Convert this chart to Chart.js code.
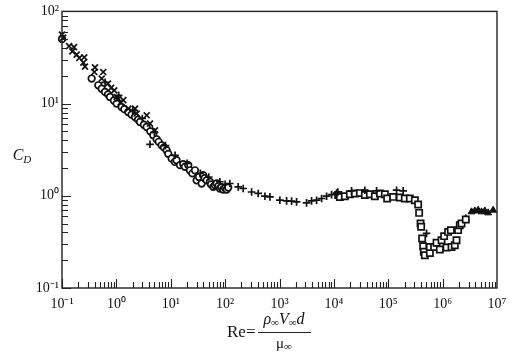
<!DOCTYPE html>
<html>
<head>
<meta charset="utf-8">
<script src="https://cdn.jsdelivr.net/npm/chart.js@4.4.1/dist/chart.umd.min.js"></script>
<style>
  html, body { margin: 0; padding: 0; background: #fff; }
  canvas { display: block; }
</style>
</head>
<body>
<canvas id="dragChart" width="516" height="352"></canvas>
<script>
// tick labels
const xTickValues = [1e-1, 1e0, 1e1, 1e2, 1e3, 1e4, 1e5, 1e6, 1e7];
const xTickLabels = ['10⁻¹', '10⁰', '10¹', '10²', '10³', '10⁴', '10⁵', '10⁶', '10⁷'];
const yTickValues = [1e-1, 1e0, 1e1, 1e2];
const yTickLabels = ['10⁻¹', '10⁰', '10¹', '10²'];

// "x" marks
const xMarkRe = [0.10, 0.105, 0.135, 0.166, 0.155, 0.186, 0.208, 0.257, 0.247, 0.265, 0.404, 0.393, 0.574, 0.537, 0.70, 0.80, 0.914, 1.01, 1.08, 1.20, 1.34, 1.66, 2.20, 2.36, 3.61, 4.15, 5.13];
const xMarkCd = [56, 52, 42.1, 41.0, 36.9, 34.0, 31.2, 31.8, 27.8, 25.2, 24.7, 22.0, 22.0, 18.7, 16.5, 14.8, 13.9, 11.8, 11.3, 10.3, 10.9, 8.83, 8.83, 7.80, 7.47, 6.07, 5.14];

// "+" marks
const plusRe = [0.62, 1.1, 2.0, 3.0, 4.15, 5.0, 8.0, 12, 20, 35, 50, 80, 100, 122, 174, 215, 307, 406, 539, 667, 1016, 1352, 1668, 2061, 3148, 3890, 4808, 5943, 7345, 9079, 11220, 11860, 21130, 37150, 60950, 142200, 188000, 505800];
const plusCd = [17, 12.3, 8.5, 6.9, 3.62, 4.9, 3.5, 2.75, 2.25, 1.75, 1.6, 1.42, 1.33, 1.36, 1.25, 1.20, 1.10, 1.06, 0.99, 0.973, 0.896, 0.881, 0.875, 0.859, 0.838, 0.881, 0.896, 0.935, 0.99, 1.03, 1.07, 1.10, 1.13, 1.15, 1.13, 1.15, 1.13, 0.391];

// open circles
const circleRe = [0.10, 0.351, 0.465, 0.537, 0.617, 0.70, 0.762, 0.90, 1.01, 1.25, 1.40, 1.65, 1.90, 2.20, 2.50, 2.72, 3.20, 3.60, 4.20, 4.77, 5.50, 6.0, 6.80, 7.50, 8.40, 9.0, 10.4, 11.9, 12.8, 14.8, 17, 18.2, 21.0, 22.5, 25, 27.9, 29.9, 33, 37.0, 39.5, 42, 45.7, 52.6, 55, 60.4, 65, 69.8, 75, 80.2, 85, 92.2, 100, 107, 114];
const circleCd = [50, 18.7, 15.8, 14.5, 13.4, 12.6, 11.8, 10.8, 10.0, 9.18, 8.7, 8.11, 7.6, 7.16, 6.7, 6.32, 5.9, 5.58, 5.0, 4.54, 4.1, 3.85, 3.53, 3.35, 3.12, 2.85, 2.54, 2.33, 2.43, 2.15, 2.2, 2.06, 2.15, 1.89, 1.75, 1.89, 1.47, 1.6, 1.36, 1.67, 1.55, 1.47, 1.42, 1.33, 1.25, 1.3, 1.36, 1.27, 1.20, 1.24, 1.17, 1.21, 1.17, 1.23];

// open squares
const squareRe = [12000, 12880, 15920, 19680, 24320, 30060, 37150, 45920, 56760, 70150, 86700, 95500, 123000, 163300, 201800, 249500, 308400, 354600, 369900, 392600, 402600, 419900, 438500, 451000, 470800, 582000, 582000, 698300, 772700, 888900, 955000, 1066000, 1180000, 1262000, 1415000, 1458000, 1675000, 1802000, 1928000, 2070000, 2225000, 2667000];
const squareCd = [1.02, 0.97, 0.99, 1.04, 1.06, 1.07, 1.02, 1.04, 0.99, 1.06, 1.04, 0.935, 0.973, 0.959, 0.935, 0.935, 0.896, 0.805, 0.653, 0.501, 0.461, 0.344, 0.284, 0.247, 0.227, 0.240, 0.279, 0.279, 0.309, 0.262, 0.330, 0.365, 0.275, 0.406, 0.424, 0.279, 0.291, 0.330, 0.424, 0.480, 0.501, 0.553];

// filled triangles
const triangleRe = [2.67e6, 3.40e6, 3.91e6, 4.50e6, 5.19e6, 5.97e6, 6.87e6, 8.49e6];
const triangleCd = [0.567, 0.670, 0.686, 0.698, 0.670, 0.686, 0.653, 0.698];

const toPoints = (re, cd) => re.map((r, i) => ({ x: r, y: cd[i] }));

document.addEventListener('DOMContentLoaded', function () {
    const ctx = document.getElementById('dragChart').getContext('2d');
    const serif = '"Liberation Serif", "Times New Roman", serif';
    const ink = '#111';

    // box and inward log ticks
    const frame = {
        id: 'frame',
        afterDraw(chart) {
            const { ctx, chartArea: a, scales: { x, y } } = chart;
            ctx.save();
            ctx.strokeStyle = '#222';
            ctx.lineWidth = 1.4;
            ctx.strokeRect(a.left, a.top, a.right - a.left, a.bottom - a.top);
            ctx.lineWidth = 1.1;
            ctx.beginPath();
            for (let e = -1; e <= 6; e++) {
                for (let m = 1; m <= 9; m++) {
                    const px = Math.round(x.getPixelForValue(m * Math.pow(10, e))) + 0.5;
                    const len = m === 1 ? 9 : 6;
                    ctx.moveTo(px, a.bottom);
                    ctx.lineTo(px, a.bottom - len);
                }
            }
            for (let e = -1; e <= 1; e++) {
                for (let m = 1; m <= 9; m++) {
                    const py = Math.round(y.getPixelForValue(m * Math.pow(10, e))) + 0.5;
                    const len = m === 1 ? 9 : 6;
                    ctx.moveTo(a.left, py);
                    ctx.lineTo(a.left + len, py);
                }
            }
            ctx.stroke();

            // axis titles
            ctx.fillStyle = ink;
            ctx.textBaseline = 'alphabetic';
            const runs = (parts, cx, base) => {
                let w = 0;
                parts.forEach(p => { ctx.font = p[1]; w += ctx.measureText(p[0]).width; });
                let cur = cx - w / 2;
                parts.forEach(p => {
                    ctx.font = p[1];
                    ctx.fillText(p[0], cur, base + p[2]);
                    cur += ctx.measureText(p[0]).width;
                });
            };
            runs([['C', 'italic 16px ' + serif, 0], ['D', 'italic 11px ' + serif, 3]], 22, 160);

            ctx.font = '17px ' + serif;
            ctx.fillText('Re', 227, 337);
            ctx.fillText('=', 246, 337);
            runs([['ρ', 'italic 16px ' + serif, 0], ['∞', '11px ' + serif, 2],
                  ['V', 'italic 16px ' + serif, 0], ['∞', '11px ' + serif, 2],
                  ['d', 'italic 16px ' + serif, 0]], 284, 324);
            ctx.lineWidth = 1;
            ctx.beginPath();
            ctx.moveTo(258, 332.5);
            ctx.lineTo(311, 332.5);
            ctx.stroke();
            runs([['μ', '15px ' + serif, 0], ['∞', '11px ' + serif, 2]], 284, 348);
            ctx.restore();
        }
    };

    const markers = {
        borderColor: ink,
        borderWidth: 1.7,
        clip: false
    };

    new Chart(ctx, {
        type: 'scatter',
        data: {
            datasets: [
                { ...markers, label: 'x', data: toPoints(xMarkRe, xMarkCd), pointStyle: 'crossRot', pointRadius: 4.2, backgroundColor: ink },
                { ...markers, label: '+', data: toPoints(plusRe, plusCd), pointStyle: 'cross', pointRadius: 3.8, backgroundColor: ink },
                { ...markers, label: 'circle', data: toPoints(circleRe, circleCd), pointStyle: 'circle', pointRadius: 3.3, backgroundColor: '#fff' },
                { ...markers, label: 'square', data: toPoints(squareRe, squareCd), pointStyle: 'rect', pointRadius: 4.4, backgroundColor: '#fff' },
                { ...markers, label: 'triangle', data: toPoints(triangleRe, triangleCd), pointStyle: 'triangle', pointRadius: 4, backgroundColor: ink, borderWidth: 1 }
            ]
        },
        options: {
            responsive: false,
            animation: false,
            layout: { padding: { left: 0, right: 19, top: 11, bottom: 0 } },
            plugins: {
                legend: { display: false },
                tooltip: { enabled: false }
            },
            scales: {
                x: {
                    type: 'logarithmic',
                    min: 0.1,
                    max: 1e7,
                    grid: { display: false, drawTicks: false },
                    border: { display: false },
                    afterBuildTicks: scale => { scale.ticks = xTickValues.map(v => ({ value: v })); },
                    afterFit: scale => { scale.height = 64; },
                    ticks: {
                        autoSkip: false,
                        maxRotation: 0,
                        padding: 8,
                        color: ink,
                        font: { family: serif, size: 14 },
                        callback: (v, i) => xTickLabels[i]
                    }
                },
                y: {
                    type: 'logarithmic',
                    min: 0.1,
                    max: 100,
                    grid: { display: false, drawTicks: false },
                    border: { display: false },
                    afterBuildTicks: scale => { scale.ticks = yTickValues.map(v => ({ value: v })); },
                    afterFit: scale => { scale.width = 62; },
                    ticks: {
                        autoSkip: false,
                        padding: 3,
                        color: ink,
                        font: { family: serif, size: 14 },
                        callback: (v, i) => yTickLabels[i]
                    }
                }
            }
        },
        plugins: [frame]
    });
});
</script>
</body>
</html>
